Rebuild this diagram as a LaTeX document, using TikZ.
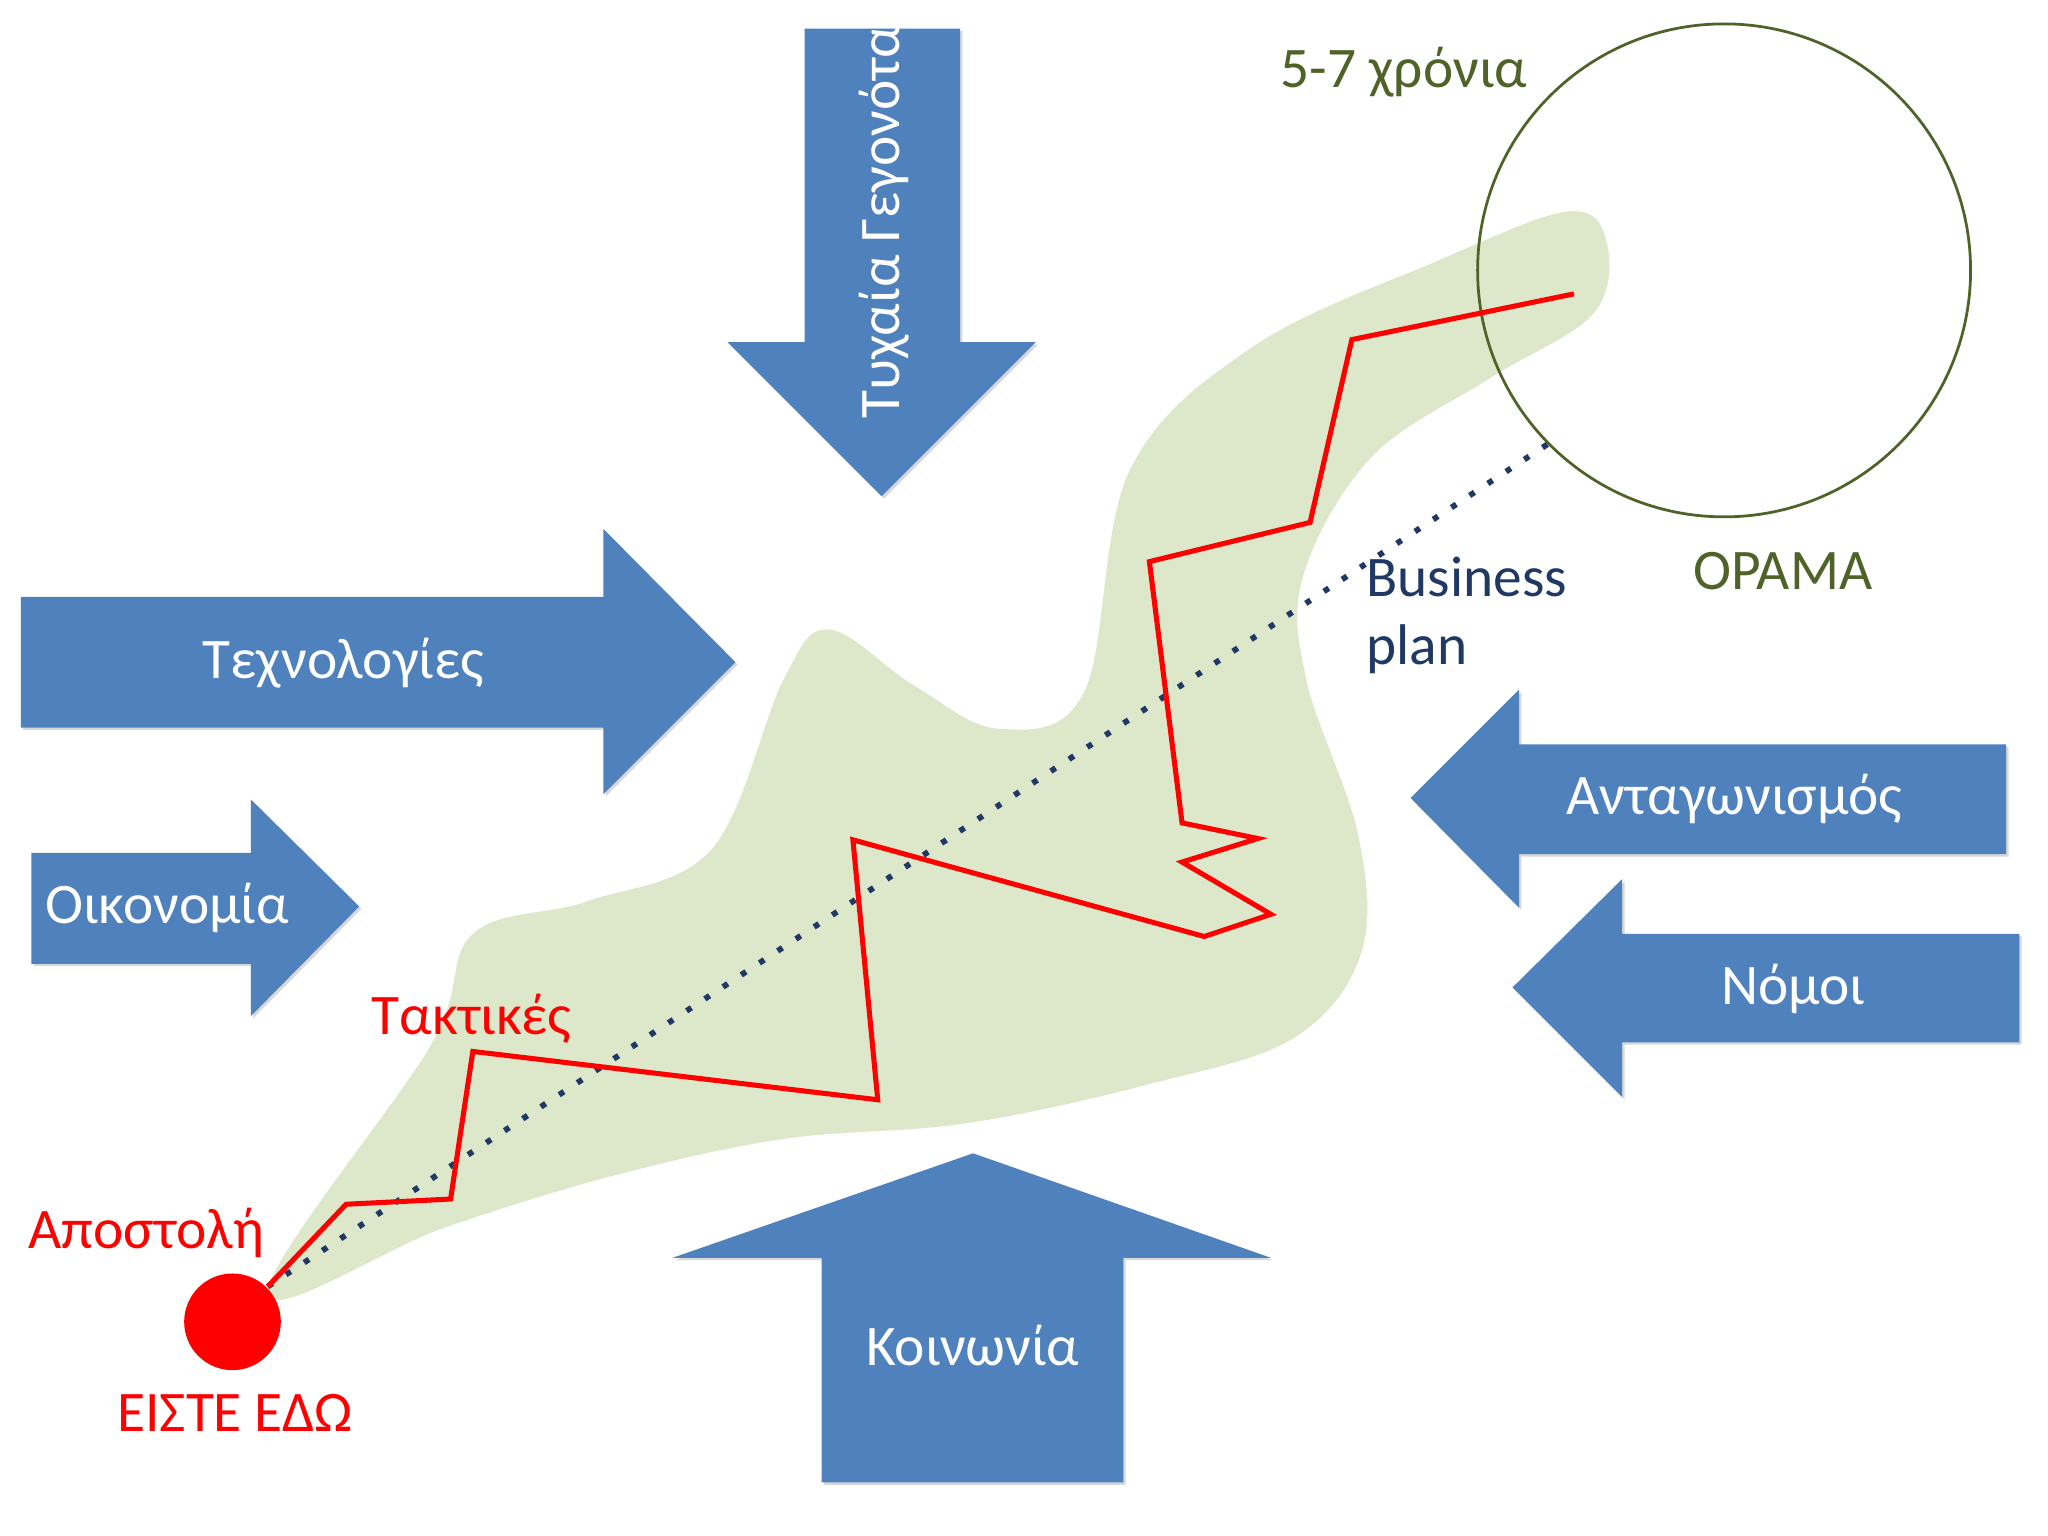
\documentclass[tikz,border=0pt]{standalone}
\usepackage{fontspec}
\setmainfont{Carlito}
\usetikzlibrary{shadows}
\definecolor{ablue}{HTML}{4F81BD}
\definecolor{blob}{HTML}{DDE7CA}
\definecolor{olive}{HTML}{4F6228}
\definecolor{navy}{HTML}{1F3864}
\begin{document}
\begin{tikzpicture}[x=0.02cm,y=-0.02cm,
  arr/.style={fill=ablue,draw=none,drop shadow={shadow xshift=1pt,shadow yshift=-1pt,opacity=0.3}},
  lbl/.style={font=\fontsize{25}{30}\selectfont,text=white},
  txt/.style={font=\fontsize{25}{30}\selectfont}]
\useasboundingbox (0,0) rectangle (1568,1176);
\fill[white] (0,0) rectangle (1568,1176);
% blob
\fill[blob] plot[smooth cycle,tension=0.6] coordinates{(205,990)(330,800)(362,715)(450,690)(545,650)(600,520)(635,482)(700,525)(765,558)(830,530)(865,360)(960,265)(1100,200)(1200,162)(1230,185)(1220,240)(1140,290)(1050,350)(998,440)(1000,520)(1040,640)(1042,730)(990,795)(880,830)(740,860)(600,872)(470,900)(340,940)};
% arrows
\path[arr] (616,22)--(735,22)--(735,262)--(793,262)--(675,380)--(557,262)--(616,262)--cycle;
\node[lbl,rotate=90] (t1) at (677,170) {Τυχαία Γεγονότα};
\path[arr] (16,457)--(462,457)--(462,405)--(563,507)--(462,608)--(462,557)--(16,557)--cycle;
\node[lbl] (t2) at (263,508) {Τεχνολογίες};
\path[arr] (24,653)--(192,653)--(192,612)--(275,694)--(192,778)--(192,738)--(24,738)--cycle;
\node[lbl] (t3) at (128,695) {Οικονομία};
\path[arr] (1536,570)--(1163,570)--(1163,528)--(1080,611)--(1163,695)--(1163,654)--(1536,654)--cycle;
\node[lbl] (t4) at (1328,612) {Ανταγωνισμός};
\path[arr] (1546,715)--(1242,715)--(1242,673)--(1158,756)--(1242,840)--(1242,798)--(1546,798)--cycle;
\node[lbl] (t5) at (1373,757) {Νόμοι};
\path[arr] (629,1135)--(629,963)--(515,963)--(745,883)--(973,963)--(860,963)--(860,1135)--cycle;
\node[lbl] (t6) at (745,1030) {Κοινωνία};
% circle
\node[draw=olive,line width=1.2pt,circle,minimum size=7.55cm] (vis) at (1320,207) {};
% dotted
\coordinate (s) at (205,985);
\coordinate (e) at (1185,340);
\draw[navy,line width=2.5pt,dash pattern=on 2.5pt off 7pt] (s)--(e);
% red path
\draw[red,line width=2.2pt,line join=miter] (s)--(265,922)--(345,918)--(362,805)--(672,842)--(653,643)--(922,717)--(973,700)--(905,660)--(963,642)--(905,630)--(880,430)--(1003,400)--(1035,260)--(1205,225);
\fill[red] (178,1012) circle[radius=37];
% texts
\node[txt,text=olive] (a) at (1075,55) {5-7 χρόνια};
\node[txt,text=olive] (b) at (1365,437) {ΟΡΑΜΑ};
\node[txt,text=navy,anchor=north west,align=left] (c) at (1040,420) {Business\\plan};
\node[txt,text=red] (d) at (361,780) {Τακτικές};
\node[txt,text=red] (f) at (112,944) {Αποστολή};
\node[txt,text=red] (g) at (180,1082) {ΕΙΣΤΕ ΕΔΩ};
\end{tikzpicture}
\end{document}
